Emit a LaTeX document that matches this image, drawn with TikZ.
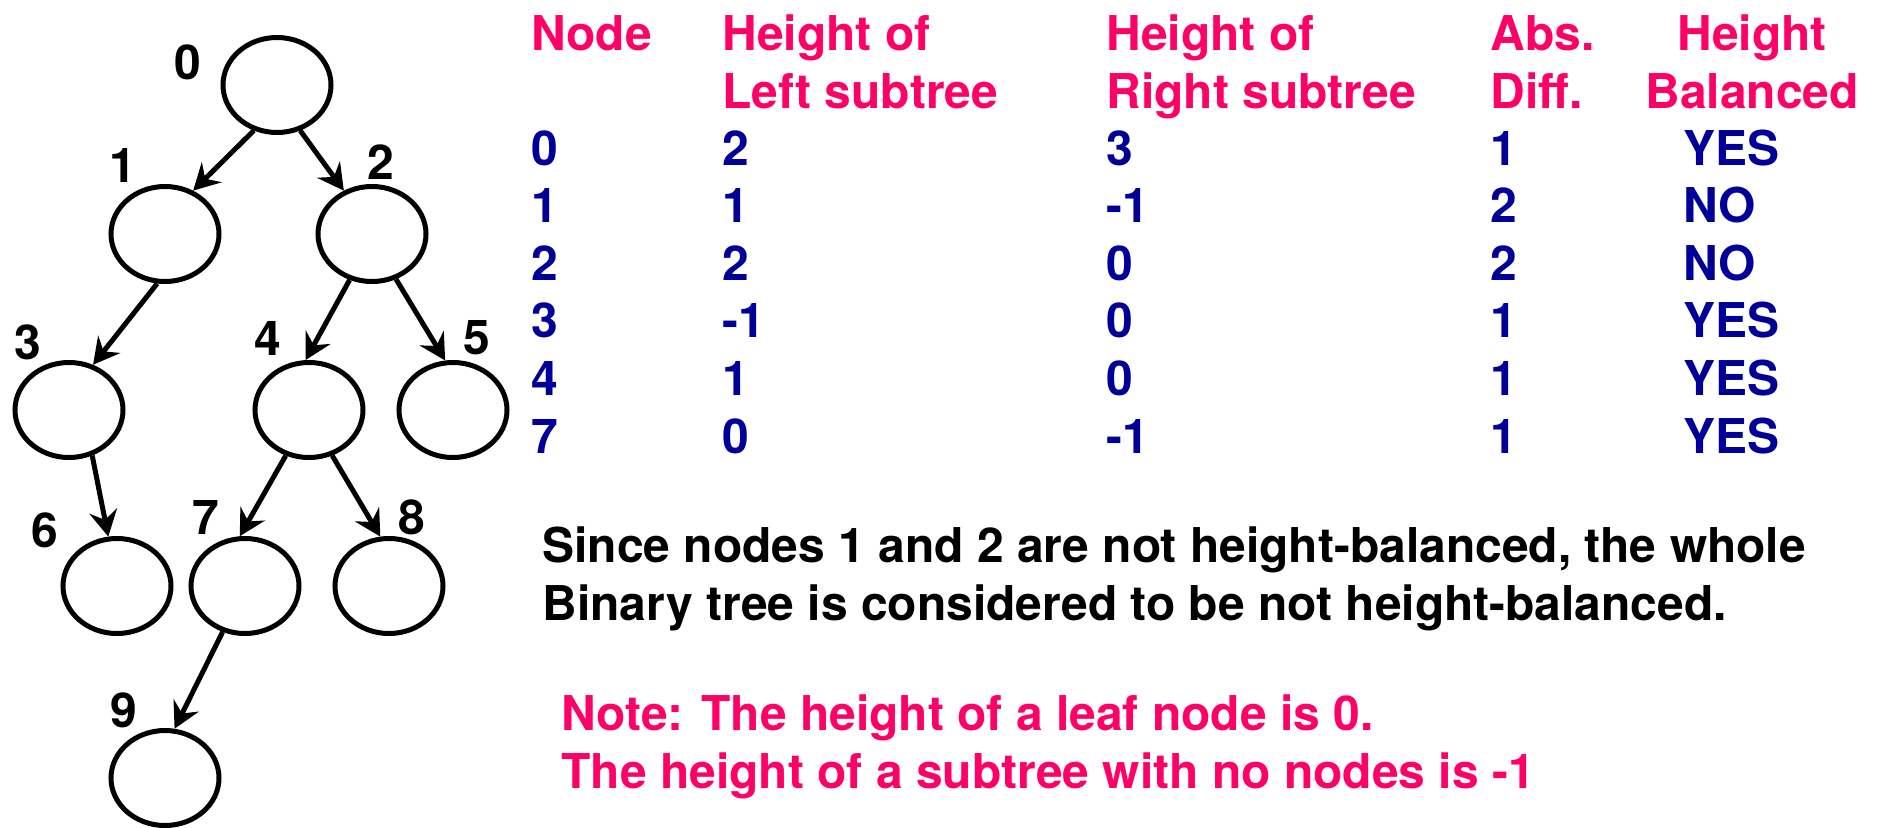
\documentclass[tikz,border=0pt]{standalone}
\usepackage{fontspec}
\setmainfont{TeX Gyre Heros}
\usetikzlibrary{arrows.meta, shapes.geometric}
\definecolor{cpink}{HTML}{FF0066}
\definecolor{cnavy}{HTML}{000099}
\tikzset{
  every picture/.style={font=\bfseries\fontsize{27.3}{33}\selectfont, line width=2.85pt},
  tnode/.style={draw, ellipse, minimum width=2.16cm, minimum height=1.9cm, inner sep=0pt},
  num/.style={inner sep=0pt},
  arrow/.style={-{Stealth[length=5.2mm, width=5.6mm, inset=1.8mm]}},
  head/.style={text=cpink, anchor=base west, inner sep=0pt},
  cell/.style={text=cnavy, anchor=base west, inner sep=0pt},
  remark/.style={anchor=base west, inner sep=0pt},
}

\begin{document}
\begin{tikzpicture}
  \useasboundingbox (0,0) rectangle (37.62,-16.54);
  % the tree
  \node[tnode] (n0) at (5.54,-1.70) {};
  \node[tnode] (n1) at (3.30,-4.68) {};   \node[tnode] (n2) at (7.44,-4.68) {};
  \node[tnode] (n3) at (1.38,-8.20) {};   \node[tnode] (n4) at (6.18,-8.20) {};   \node[tnode] (n5) at (9.06,-8.20) {};
  \node[tnode] (n6) at (2.34,-11.72) {};  \node[tnode] (n7) at (4.90,-11.72) {};  \node[tnode] (n8) at (7.78,-11.72) {};
  \node[tnode] (n9) at (3.30,-15.56) {};
  \foreach \p/\q/\a/\b in {0/1/243/57, 0/2/297/123, 1/3/261/62, 2/4/244/94, 2/5/298/99, 3/6/297/100, 4/7/243/96, 4/8/297/100, 7/9/244/79}
    \draw[arrow] (n\p.\a) -- (n\q.\b);
  \foreach \i/\x/\y in {0/3.76/-1.24, 1/2.46/-3.30, 2/7.62/-3.24, 3/0.56/-6.84, 4/5.36/-6.76, 5/9.54/-6.76, 6/0.90/-10.60, 7/4.12/-10.34, 8/8.24/-10.34, 9/2.48/-14.20}
    \node[num] (l\i) at (\x,\y) {\i};
  % table
  \node[head] (h0) at (10.58,-1.00) {Node};
  \node[head] (h1) at (14.40,-1.00) {Height of};   \node[head] (h1b) at (14.40,-2.16) {Left subtree};
  \node[head] (h2) at (22.08,-1.00) {Height of};   \node[head] (h2b) at (22.08,-2.16) {Right subtree};
  \node[head] (h3) at (29.76,-1.00) {Abs.};        \node[head] (h3b) at (29.76,-2.16) {Diff.};
  \node[head, anchor=base] (h4) at (35.04,-1.00) {Height};  \node[head, anchor=base] (h4b) at (35.04,-2.16) {Balanced};
  \foreach \r/\a/\b/\c/\d/\e in {0/0/2/3/1/YES, 1/1/1/-1/2/NO, 2/2/2/0/2/NO, 3/3/-1/0/1/YES, 4/4/1/0/1/YES, 5/7/0/-1/1/YES} {
    \node[cell] (r\r a) at (10.58,{-3.30-1.152*\r}) {\a};
    \node[cell] (r\r b) at (14.40,{-3.30-1.152*\r}) {\b};
    \node[cell] (r\r c) at (22.08,{-3.30-1.152*\r}) {\c};
    \node[cell] (r\r d) at (29.76,{-3.30-1.152*\r}) {\d};
    \node[cell] (r\r e) at (33.62,{-3.30-1.152*\r}) {\e};
  }
  % conclusion and note
  \node[remark] (s1) at (10.80,-11.24) {Since nodes 1 and 2 are not height-balanced, the whole};
  \node[remark] (s2) at (10.80,-12.40) {Binary tree is considered to be not height-balanced.};
  \node[remark, text=cpink] (t1) at (11.18,-14.60) {Note: The height of a leaf node is 0.};
  \node[remark, text=cpink] (t2) at (11.18,-15.76) {The height of a subtree with no nodes is -1};
\end{tikzpicture}
\end{document}
